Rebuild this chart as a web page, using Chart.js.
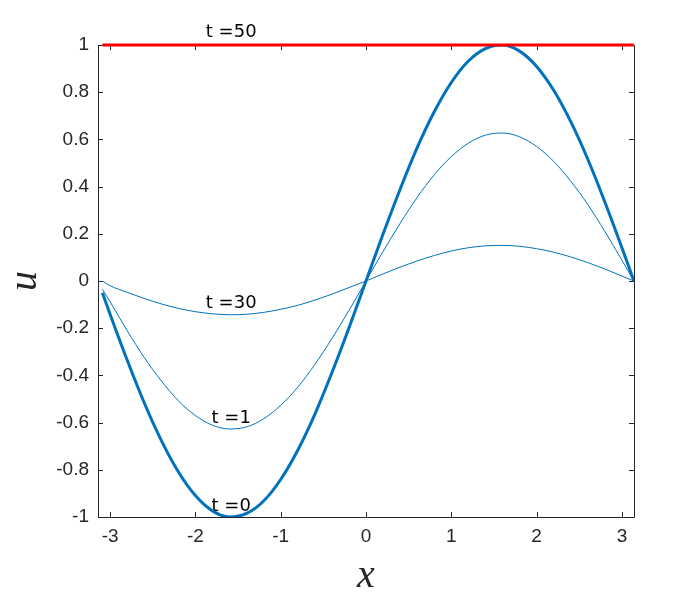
<!DOCTYPE html>
<html>
<head>
<meta charset="utf-8">
<script src="https://cdn.jsdelivr.net/npm/chart.js@4/dist/chart.umd.min.js"></script>
<style>
  html, body { margin: 0; padding: 0; background: #ffffff; }
  #wrap { width: 700px; height: 600px; }
</style>
</head>
<body>
<div id="wrap"><canvas id="c" width="700" height="600"></canvas></div>
<script>
// ---- data ----
const xs = [-3.09, -3.0, -2.8, -2.6, -2.4, -2.2, -2.0, -1.8, -1.6, -1.4, -1.2, -1.0, -0.8, -0.6, -0.4, -0.2,
            0, 0.2, 0.4, 0.6, 0.8, 1.0, 1.2, 1.4, 1.6, 1.8, 2.0, 2.2, 2.4, 2.6, 2.8, 3.0, 3.14];
const u_t0 = [-0.05, -0.141, -0.335, -0.516, -0.675, -0.808, -0.909, -0.974, -1.0, -0.985, -0.932, -0.841, -0.717, -0.565, -0.389, -0.199,
              0, 0.199, 0.389, 0.565, 0.717, 0.841, 0.932, 0.985, 1.0, 0.974, 0.909, 0.808, 0.675, 0.516, 0.335, 0.141, 0.0];
const u_t1 = [-0.035, -0.088, -0.210, -0.324, -0.423, -0.507, -0.570, -0.611, -0.627, -0.618, -0.584, -0.527, -0.450, -0.354, -0.244, -0.125,
              0, 0.125, 0.244, 0.354, 0.450, 0.527, 0.584, 0.618, 0.627, 0.611, 0.570, 0.507, 0.423, 0.324, 0.210, 0.088, 0.0];
const u_t30 = [0.0, -0.020, -0.048, -0.074, -0.097, -0.116, -0.130, -0.139, -0.143, -0.141, -0.133, -0.120, -0.103, -0.081, -0.056, -0.028,
               0, 0.030, 0.059, 0.085, 0.108, 0.127, 0.141, 0.149, 0.151, 0.147, 0.137, 0.122, 0.102, 0.078, 0.051, 0.021, 0.0];
const u_t50 = [1, 1];
const xs_t50 = [-3.09, 3.14];
const xTickVals = [-3, -2, -1, 0, 1, 2, 3];
const yTickVals = [-1, -0.8, -0.6, -0.4, -0.2, 0, 0.2, 0.4, 0.6, 0.8, 1];
const curveLabels = ['t =50', 't =30', 't =1', 't =0'];
const labelX = [-1.58, -1.58, -1.58, -1.58];
const labelY = [1.055, -0.095, -0.58, -0.953];

const BLUE = '#0072BD';
const RED = '#FF0000';
const AXIS = '#262626';

function pts(xa, ya) { return xa.map((x, i) => ({ x: x, y: ya[i] })); }

const boxPlugin = {
  id: 'boxTicks',
  beforeDatasetsDraw(chart) {
    const ctx = chart.ctx, a = chart.chartArea;
    const xs_ = chart.scales.x, ys_ = chart.scales.y;
    ctx.save();
    ctx.strokeStyle = AXIS;
    ctx.lineWidth = 1;
    ctx.beginPath();
    ctx.rect(Math.round(a.left) + 0.5, Math.round(a.top) + 0.5, Math.round(a.right - a.left), Math.round(a.bottom - a.top));
    ctx.stroke();
    const L = 5;
    ctx.beginPath();
    xTickVals.forEach(v => {
      const p = Math.round(xs_.getPixelForValue(v)) + 0.5;
      ctx.moveTo(p, a.bottom); ctx.lineTo(p, a.bottom - L);
      ctx.moveTo(p, a.top); ctx.lineTo(p, a.top + L);
    });
    yTickVals.forEach(v => {
      const p = Math.round(ys_.getPixelForValue(v)) + 0.5;
      ctx.moveTo(a.left, p); ctx.lineTo(a.left + L, p);
      ctx.moveTo(a.right, p); ctx.lineTo(a.right - L, p);
    });
    ctx.stroke();
    ctx.restore();
  },
  afterDatasetsDraw(chart) {
    const ctx = chart.ctx;
    const xs_ = chart.scales.x, ys_ = chart.scales.y;
    ctx.save();
    ctx.fillStyle = '#000000';
    ctx.font = '18px "DejaVu Sans"';
    ctx.textAlign = 'center';
    ctx.textBaseline = 'middle';
    curveLabels.forEach((t, i) => {
      ctx.fillText(t, xs_.getPixelForValue(labelX[i]), ys_.getPixelForValue(labelY[i]));
    });
    // axis titles
    ctx.fillStyle = AXIS;
    ctx.font = 'italic 40px "Liberation Serif"';
    ctx.fillText('x', 366, 576);
    ctx.save();
    ctx.translate(25, 281);
    ctx.rotate(-Math.PI / 2);
    ctx.fillText('u', 0, 0);
    ctx.restore();
    ctx.restore();
  }
};

new Chart(document.getElementById('c'), {
  type: 'line',
  data: {
    datasets: [
      { label: 't=50', data: pts(xs_t50, u_t50), borderColor: RED, borderWidth: 3, pointRadius: 0, clip: false },
      { label: 't=0', data: pts(xs, u_t0), borderColor: BLUE, borderWidth: 3, pointRadius: 0, cubicInterpolationMode: 'monotone' },
      { label: 't=1', data: pts(xs, u_t1), borderColor: BLUE, borderWidth: 1, pointRadius: 0, cubicInterpolationMode: 'monotone' },
      { label: 't=30', data: pts(xs, u_t30), borderColor: BLUE, borderWidth: 1, pointRadius: 0, cubicInterpolationMode: 'monotone' }
    ]
  },
  options: {
    responsive: false,
    animation: false,
    devicePixelRatio: 1,
    layout: { padding: { top: 45, right: 66, left: 0, bottom: 0 } },
    plugins: { legend: { display: false }, tooltip: { enabled: false }, title: { display: false } },
    scales: {
      x: {
        type: 'linear',
        min: -Math.PI, max: Math.PI,
        grid: { display: false, drawTicks: false },
        border: { display: false },
        afterBuildTicks(s) { s.ticks = xTickVals.map(v => ({ value: v })); },
        afterFit(s) { s.height = 83; },
        ticks: {
          color: AXIS, padding: 8, maxRotation: 0,
          font: { family: '"Liberation Sans", Arial, sans-serif', size: 19 },
          callback: v => String(v)
        }
      },
      y: {
        type: 'linear',
        min: -1, max: 1,
        grid: { display: false, drawTicks: false },
        border: { display: false },
        afterBuildTicks(s) { s.ticks = yTickVals.map(v => ({ value: v })); },
        afterFit(s) { s.width = 98; },
        ticks: {
          color: AXIS, padding: 9,
          font: { family: '"Liberation Sans", Arial, sans-serif', size: 19 },
          callback: v => String(Math.round(v * 10) / 10)
        }
      }
    }
  },
  plugins: [boxPlugin]
});
</script>
</body>
</html>
